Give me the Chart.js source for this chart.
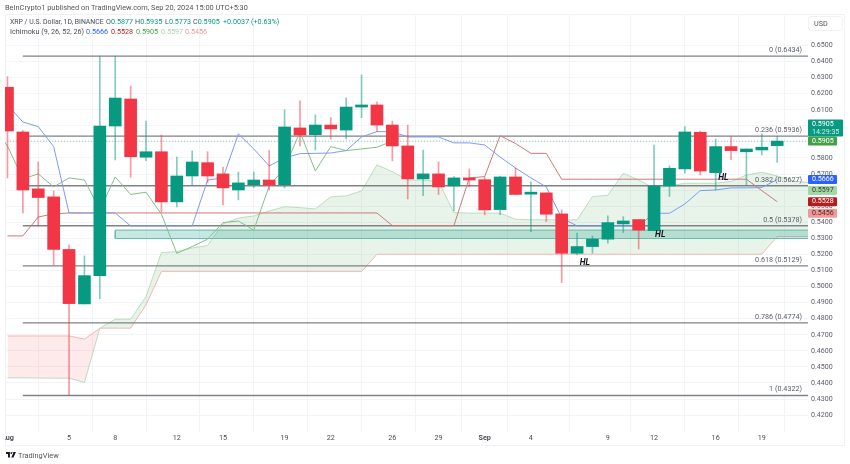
<!DOCTYPE html>
<html>
<head>
<meta charset="utf-8">
<title>XRP / U.S. Dollar</title>
<script src="https://cdn.jsdelivr.net/npm/chart.js@4/dist/chart.umd.min.js"></script>
<style>
    html, body { margin: 0; padding: 0; background: #fff; width: 850px; height: 464px; overflow: hidden; }
    body { position: relative; font-family: Roboto, sans-serif; color: #4a4d57; }
    #frame { position: absolute; left: 5px; top: 14px; width: 838px; height: 430px; border: 1px solid #eff1f5; }
    #chart { position: absolute; left: 5px; top: 0; }
    .line { position: absolute; left: 0; width: 300px; height: 10px; white-space: pre; font-size: 7.2px; line-height: 10px; }
    .line span { position: absolute; top: 0; }
    .up { color: #089981; }
    #published { top: 3px; color: #555; font-size: 7.4px; }
    #ohlc { top: 17px; }
    #ichimoku { top: 27px; }
    #usd { position: absolute; left: 808px; top: 16px; width: 33px; height: 13px; border: 1px solid #f0f1f4; border-radius: 3px; font-size: 7.2px; line-height: 13px; text-indent: 5px; color: #555; }
    #brand { position: absolute; left: 6px; top: 449px; height: 12px; display: flex; align-items: center; gap: 2px; font-size: 7.4px; color: #555; }
</style>
</head>
<body>
<div id="frame"></div>
<canvas id="chart" width="845" height="464"></canvas>
<div class="line" id="published"><span style="left:5px">BeInCrypto1 published on TradingView.com, Sep 20, 2024 15:00 UTC+5:30</span></div>
<div class="line" id="ohlc"><span style="left:10px;font-size:6.9px">XRP / U.S. Dollar, 1D, BINANCE</span><span style="left:106px">O<span class="up" style="position:static">0.5877</span></span><span style="left:135px">H<span class="up" style="position:static">0.5935</span></span><span style="left:165px">L<span class="up" style="position:static">0.5773</span></span><span style="left:193px">C<span class="up" style="position:static">0.5905</span></span><span class="up" style="left:223px">+0.0037 (+0.63%)</span></div>
<div class="line" id="ichimoku"><span style="left:10px">Ichimoku (9, 26, 52, 26)</span><span style="left:86px;color:#2962ff">0.5666</span><span style="left:111px;color:#b71c1c">0.5528</span><span style="left:136px;color:#43a047">0.5905</span><span style="left:161px;color:#a5d6a7">0.5597</span><span style="left:185px;color:#ef9a9a">0.5456</span></div>
<div id="usd">USD</div>
<div id="brand">
    <svg width="10" height="5.5" viewBox="0 0 36 20"><path fill="#131722" d="M0 0h14v20H7V7H0zM15 0h21l-9 20h-8l8-18z"/><circle cx="19" cy="4" r="3.5" fill="#131722"/></svg>
    <span>TradingView</span>
</div>
<script>
// candles, one per day from Aug 1 (index 0) to Sep 20 (index 50)
const opens = [0.6240, 0.5962, 0.5608, 0.5558, 0.5231, 0.4892, 0.5067, 0.5999, 0.6167, 0.5805, 0.5839, 0.5527, 0.5688, 0.5771, 0.5701, 0.5601, 0.5634, 0.5663, 0.5634, 0.5987, 0.5945, 0.6005, 0.5974, 0.6117, 0.6130, 0.6005, 0.5875, 0.5670, 0.5701, 0.5626, 0.5676, 0.5665, 0.5479, 0.5682, 0.5575, 0.5583, 0.5452, 0.5207, 0.5249, 0.5295, 0.5390, 0.5417, 0.5348, 0.5626, 0.5732, 0.5960, 0.5709, 0.5871, 0.5839, 0.5850, 0.5877];
const highs = [0.6306, 0.5970, 0.5775, 0.5595, 0.5259, 0.5191, 0.6434, 0.6434, 0.6248, 0.6030, 0.5943, 0.5806, 0.5844, 0.5839, 0.5744, 0.5713, 0.5713, 0.5846, 0.6099, 0.6155, 0.6068, 0.6051, 0.6175, 0.6317, 0.6149, 0.6030, 0.6005, 0.5850, 0.5777, 0.5684, 0.5732, 0.5682, 0.5688, 0.5738, 0.5651, 0.5583, 0.5477, 0.5332, 0.5315, 0.5440, 0.5435, 0.5417, 0.5881, 0.5751, 0.5995, 0.5968, 0.5917, 0.5933, 0.5856, 0.5950, 0.5935];
const lows = [0.5676, 0.5458, 0.5377, 0.5135, 0.4322, 0.4892, 0.4925, 0.5788, 0.5680, 0.5783, 0.5464, 0.5495, 0.5632, 0.5645, 0.5508, 0.5539, 0.5616, 0.5601, 0.5614, 0.5875, 0.5850, 0.5918, 0.5918, 0.6051, 0.5964, 0.5782, 0.5545, 0.5566, 0.5573, 0.5470, 0.5622, 0.5446, 0.5447, 0.5571, 0.5342, 0.5404, 0.5025, 0.5197, 0.5207, 0.5270, 0.5336, 0.5234, 0.5348, 0.5560, 0.5705, 0.5696, 0.5601, 0.5790, 0.5628, 0.5819, 0.5773];
const closes = [0.5968, 0.5601, 0.5554, 0.5231, 0.4894, 0.5068, 0.5999, 0.6173, 0.5808, 0.5839, 0.5527, 0.5688, 0.5775, 0.5688, 0.5614, 0.5645, 0.5663, 0.5632, 0.5993, 0.5943, 0.6005, 0.5981, 0.6117, 0.6130, 0.6005, 0.5875, 0.5670, 0.5701, 0.5620, 0.5676, 0.5663, 0.5477, 0.5682, 0.5573, 0.5587, 0.5450, 0.5207, 0.5249, 0.5295, 0.5398, 0.5408, 0.5351, 0.5626, 0.5736, 0.5962, 0.5719, 0.5871, 0.5846, 0.5856, 0.5867, 0.5905];

// ichimoku
const conversionLine = [0.6130, 0.6024, 0.5995, 0.5871, 0.5458, 0.5458, 0.5458, 0.5458, 0.5377, 0.5377, 0.5377, 0.5377, 0.5377, 0.5663, 0.5676, 0.5950, 0.5856, 0.5751, 0.5800, 0.5827, 0.5829, 0.5831, 0.5846, 0.5931, 0.5964, 0.5964, 0.5931, 0.5931, 0.5931, 0.5894, 0.5894, 0.5881, 0.5806, 0.5738, 0.5676, 0.5620, 0.5427, 0.5377, 0.5377, 0.5377, 0.5377, 0.5377, 0.5456, 0.5456, 0.5514, 0.5597, 0.5601, 0.5614, 0.5614, 0.5616, 0.5666];
const baseLine = [0.5315, 0.5315, 0.5433, 0.5452, 0.5458, 0.5458, 0.5458, 0.5458, 0.5458, 0.5458, 0.5458, 0.5458, 0.5458, 0.5458, 0.5458, 0.5458, 0.5458, 0.5458, 0.5458, 0.5458, 0.5458, 0.5458, 0.5458, 0.5458, 0.5458, 0.5379, 0.5379, 0.5379, 0.5379, 0.5379, 0.5676, 0.5684, 0.5939, 0.5890, 0.5829, 0.5829, 0.5668, 0.5668, 0.5668, 0.5668, 0.5668, 0.5668, 0.5668, 0.5668, 0.5668, 0.5668, 0.5668, 0.5668, 0.5668, 0.5597, 0.5528];
// starts one day before the first visible candle
const laggingSpan = [0.6005, 0.5875, 0.5670, 0.5701, 0.5620, 0.5676, 0.5663, 0.5477, 0.5682, 0.5573, 0.5587, 0.5450, 0.5207, 0.5249, 0.5295, 0.5398, 0.5408, 0.5351, 0.5626, 0.5736, 0.5962, 0.5719, 0.5871, 0.5846, 0.5856, 0.5867, 0.5905];
const leadingSpanA = [0.4432, 0.4432, 0.4431, 0.4430, 0.4430, 0.4403, 0.4741, 0.4797, 0.4797, 0.4938, 0.5211, 0.5217, 0.5240, 0.5255, 0.5390, 0.5427, 0.5439, 0.5470, 0.5497, 0.5491, 0.5483, 0.5558, 0.5564, 0.5595, 0.5757, 0.5715, 0.5663, 0.5663, 0.5653, 0.5460, 0.5457, 0.5457, 0.5457, 0.5419, 0.5415, 0.5415, 0.5415, 0.5415, 0.5560, 0.5568, 0.5705, 0.5663, 0.5612, 0.5626, 0.5643, 0.5643, 0.5643, 0.5653, 0.5694, 0.5711, 0.5688, 0.5657, 0.5647];
const leadingSpanB = [0.4693, 0.4693, 0.4693, 0.4693, 0.4693, 0.4673, 0.4741, 0.4741, 0.4741, 0.4886, 0.5093, 0.5093, 0.5093, 0.5093, 0.5093, 0.5093, 0.5093, 0.5093, 0.5093, 0.5093, 0.5093, 0.5093, 0.5093, 0.5093, 0.5201, 0.5201, 0.5201, 0.5201, 0.5201, 0.5201, 0.5201, 0.5201, 0.5201, 0.5201, 0.5201, 0.5201, 0.5201, 0.5201, 0.5201, 0.5201, 0.5201, 0.5201, 0.5201, 0.5201, 0.5201, 0.5201, 0.5201, 0.5201, 0.5201, 0.5201, 0.5311, 0.5311, 0.5311];

// fibonacci retracement
const fibRatios = ['0', '0.236', '0.382', '0.5', '0.618', '0.786', '1'];
const fibPrices = [0.6434, 0.5936, 0.5627, 0.5378, 0.5129, 0.4774, 0.4322];

// support zone and last price
const zoneTop = 0.5351;
const zoneBottom = 0.5299;
const lastPrice = 0.5905;

// HL notes
const noteLabels = ['HL', 'HL', 'HL'];
const noteDays = [46.5, 42.4, 37.5];
const notePrices = [0.5676, 0.5323, 0.5147];

// axes
const tickDays = [0, 4, 7, 11, 14, 18, 21, 25, 28, 31, 34, 39, 42, 46, 49];
const tickLabels = ['Aug', '5', '8', '12', '15', '19', '22', '26', '29', 'Sep', '4', '9', '12', '16', '19'];
const priceTicks = [0.65, 0.64, 0.63, 0.62, 0.61, 0.60, 0.59, 0.58, 0.57, 0.56, 0.55, 0.54, 0.53, 0.52, 0.51, 0.50, 0.49, 0.48, 0.47, 0.46, 0.45, 0.44, 0.43, 0.42];

// price tags on the right axis
const tagPrices = [0.5666, 0.5597, 0.5528, 0.5456, 0.5905];
const tagColors = ['#2962ff', '#a5d6a7', '#b71c1c', '#ef9a9a', '#43a047'];
const tagTextColors = ['#fff', '#1f3d20', '#fff', '#5a1c1c', '#fff'];
const countdown = '14:29:35';

const green = '#089981';
const red = '#f23645';
const isUp = opens.map((o, i) => closes[i] >= o);

const toPoints = (values, start = 0) => values.map((y, i) => ({ x: i + start, y }));

const lineSet = (label, data, color, order, extra = {}) => ({
    type: 'line',
    label,
    data,
    borderColor: color,
    borderWidth: 1,
    pointRadius: 0,
    tension: 0,
    fill: false,
    order,
    ...extra,
});

const datasets = [
    {
        label: 'Wicks',
        data: highs.map((h, i) => ({ x: i, y: [lows[i], h] })),
        backgroundColor: isUp.map((u) => (u ? 'rgba(8,153,129,0.5)' : 'rgba(242,54,69,0.5)')),
        barThickness: 1,
        grouped: false,
        order: 2,
    },
    {
        label: 'Bodies',
        data: opens.map((o, i) => ({ x: i, y: [Math.min(o, closes[i]), Math.max(o, closes[i])] })),
        backgroundColor: isUp.map((u) => (u ? green : red)),
        barThickness: 12,
        grouped: false,
        minBarLength: 2,
        order: 1,
    },
    lineSet('Conversion', toPoints(conversionLine), '#7d9bf3', 3),
    lineSet('Base', toPoints(baseLine), '#cc7a78', 3),
    lineSet('Lagging', toPoints(laggingSpan, -1), '#86bd88', 3),
    lineSet('Leading A', toPoints(leadingSpanA), '#bcdcbd', 6, {
        fill: { target: '+1', above: 'rgba(67,160,71,0.12)', below: 'rgba(242,54,69,0.11)' },
    }),
    lineSet('Leading B', toPoints(leadingSpanB), '#f5bdb9', 6),
    lineSet('Zone top', [{ x: 7, y: zoneTop }, { x: 53, y: zoneTop }], '#74c4b6', 5, {
        borderWidth: 1.2,
        fill: { target: '+1', above: 'rgba(8,153,129,0.23)', below: 'rgba(8,153,129,0.23)' },
    }),
    lineSet('Zone bottom', [{ x: 7, y: zoneBottom }, { x: 53, y: zoneBottom }], '#74c4b6', 5, { borderWidth: 1.2 }),
    lineSet('Zone edge', [{ x: 7, y: zoneTop }, { x: 7, y: zoneBottom }], '#74c4b6', 5),
    lineSet('Last price', [{ x: -1, y: lastPrice }, { x: 53, y: lastPrice }], 'rgba(8,153,129,0.45)', 4, { borderDash: [1, 2] }),
    ...fibPrices.map((price, i) => lineSet(`Fib ${fibRatios[i]}`, [{ x: 1, y: price }, { x: 53, y: price }], '#808285', 4, { borderWidth: 1.4 })),
];

// fib captions, HL notes and the price tags
const overlay = {
    id: 'overlay',
    afterDatasetsDraw(chart) {
        const { ctx, scales: { x, y }, chartArea } = chart;
        ctx.save();
        ctx.textBaseline = 'middle';
        ctx.textAlign = 'right';
        ctx.font = '7.2px Roboto, sans-serif';
        ctx.fillStyle = '#5d606b';
        fibPrices.forEach((price, i) => {
            ctx.fillText(`${fibRatios[i]} (${price.toFixed(4)})`, chartArea.right - 6, y.getPixelForValue(price) - 6);
        });
        ctx.textAlign = 'center';
        ctx.font = 'italic bold 8.5px Roboto, sans-serif';
        ctx.fillStyle = '#131722';
        noteLabels.forEach((text, i) => {
            ctx.fillText(text, x.getPixelForValue(noteDays[i]), y.getPixelForValue(notePrices[i]));
        });
        ctx.restore();
    },
    afterDraw(chart) {
        const { ctx, scales: { y }, chartArea } = chart;
        ctx.save();
        ctx.textBaseline = 'middle';
        ctx.textAlign = 'left';
        ctx.font = '7.1px Roboto, sans-serif';
        tagPrices.forEach((price, i) => {
            const py = y.getPixelForValue(price);
            ctx.fillStyle = tagColors[i];
            ctx.beginPath();
            ctx.roundRect(chartArea.right, py - 4.5, 29, 9, 1);
            ctx.fill();
            ctx.fillStyle = tagTextColors[i];
            ctx.fillText(price.toFixed(4), chartArea.right + 4, py);
        });
        const top = y.getPixelForValue(lastPrice) - 21.5;
        ctx.fillStyle = green;
        ctx.beginPath();
        ctx.roundRect(chartArea.right, top, 35, 17, 1);
        ctx.fill();
        ctx.fillStyle = '#fff';
        ctx.fillText(lastPrice.toFixed(4), chartArea.right + 4, top + 5);
        ctx.fillStyle = 'rgba(255,255,255,0.8)';
        ctx.fillText(countdown, chartArea.right + 4, top + 12.5);
        ctx.restore();
    },
};

new Chart(document.getElementById('chart'), {
    type: 'bar',
    data: { datasets },
    plugins: [overlay],
    options: {
        responsive: false,
        animation: false,
        layout: { padding: { left: 0, right: 7, top: 14, bottom: 19 } },
        plugins: { legend: { display: false }, tooltip: { enabled: false }, title: { display: false } },
        scales: {
            x: {
                type: 'linear',
                min: -0.16,
                max: 52,
                offset: false,
                afterBuildTicks: (axis) => { axis.ticks = tickDays.map((value) => ({ value })); },
                afterFit: (axis) => { axis.height = 13; axis.paddingLeft = 0; axis.paddingRight = 0; },
                grid: { color: '#f3f4f8', drawTicks: false },
                border: { display: false },
                ticks: {
                    autoSkip: false,
                    maxRotation: 0,
                    padding: 2,
                    color: '#4a4d57',
                    font: (ctx) => ({ size: 7.2, family: 'Roboto, sans-serif', weight: ctx.tick && /[A-Za-z]/.test(ctx.tick.label) ? 'bold' : 'normal' }),
                    callback: (value) => tickLabels[tickDays.indexOf(value)],
                },
            },
            y: {
                position: 'right',
                min: 0.4095,
                max: 0.6696,
                afterBuildTicks: (axis) => { axis.ticks = priceTicks.map((value) => ({ value })); },
                afterFit: (axis) => { axis.width = 35; axis.paddingTop = 0; axis.paddingBottom = 0; },
                grid: { color: '#f3f4f8', drawTicks: false },
                border: { display: false },
                ticks: {
                    autoSkip: false,
                    padding: 3,
                    color: '#5d606b',
                    font: { size: 7.1, family: 'Roboto, sans-serif' },
                    callback: (value) => value.toFixed(4),
                },
            },
        },
    },
});
</script>
</body>
</html>
